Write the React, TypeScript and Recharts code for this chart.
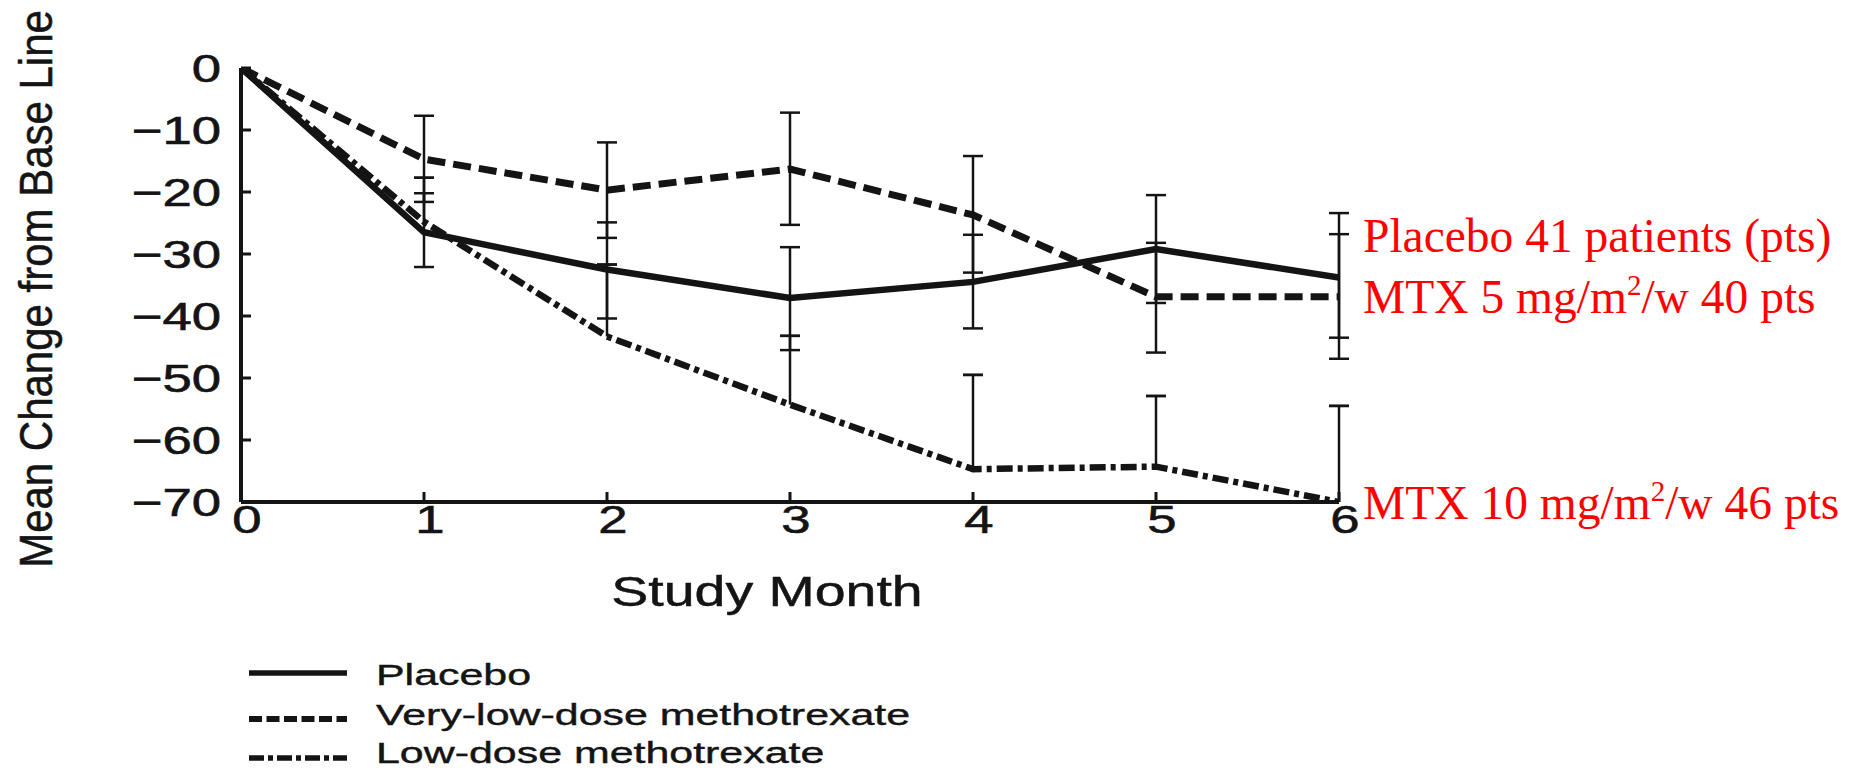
import React from 'react';
import { LineChart, Line, XAxis, YAxis, ErrorBar } from 'recharts';

// ---- data ----
const months = [0, 1, 2, 3, 4, 5, 6];
const yTicks = [0, -10, -20, -30, -40, -50, -60, -70];

const placebo = [0, -26.5, -32.5, -37.1, -34.5, -29.2, -33.8];
const placeboUpper = [null, -20.2, -24.9, -28.9, -26.9, -20.5, -23.4];
const placeboLower = [null, -32.1, -40.4, -45.5, -42.0, -37.9, -43.5];

const veryLow = [0, -14.7, -19.7, -16.3, -23.7, -36.9, -36.9];
const veryLowUpper = [null, -7.7, -12.0, -7.2, -14.2, -28.2, -26.8];
const veryLowLower = [null, -21.6, -27.4, -25.3, -33.0, -45.9, -46.9];

const lowDose = [0, -24.8, -43.3, -54.3, -64.7, -64.3, -70];
const lowDoseUpper = [null, -17.7, -31.7, -43.2, -49.5, -52.9, -54.5];

const legendNames = ['Placebo', 'Very-low-dose methotrexate', 'Low-dose methotrexate'];

const DASHED = '18 8';
const DASHDOT = '16 5 5 5';

const rows = months.map((m, i) => ({
  month: m,
  placebo: placebo[i],
  placeboErr: placeboUpper[i] == null ? undefined : [placebo[i] - (placeboLower[i] as number), (placeboUpper[i] as number) - placebo[i]],
  veryLow: veryLow[i],
  veryLowErr: veryLowUpper[i] == null ? undefined : [veryLow[i] - (veryLowLower[i] as number), (veryLowUpper[i] as number) - veryLow[i]],
  lowDose: lowDose[i],
  lowDoseErr: lowDoseUpper[i] == null ? undefined : [0, (lowDoseUpper[i] as number) - lowDose[i]],
  lowDoseCap: lowDoseUpper[i] == null ? undefined : lowDoseUpper[i],
  capErr: lowDoseUpper[i] == null ? undefined : [0, 0],
}));

const FONT = '"Liberation Sans", Arial, Helvetica, sans-serif';
const INK = '#141414';

const fmt = (v: number) => (v === 0 ? '0' : '\u2212' + Math.abs(v));

const YTick = (props: any) => {
  const { x, y, payload } = props;
  return (
    <g transform={`translate(${x},${y + 14})`}>
      <text transform="scale(1.35,1)" textAnchor="end" fontSize={39} fontFamily={FONT} fill={INK} stroke={INK} strokeWidth={0.6}>
        {fmt(payload.value)}
      </text>
    </g>
  );
};

const XTick = (props: any) => {
  const { x, y, payload } = props;
  return (
    <g transform={`translate(${x + 6},${y + 28})`}>
      <text transform="scale(1.35,1)" textAnchor="middle" fontSize={39} fontFamily={FONT} fill={INK} stroke={INK} strokeWidth={0.6}>
        {String(payload.value)}
      </text>
    </g>
  );
};

const errStyle = { stroke: INK, strokeWidth: 2.5 };

export default function App() {
  return (
    <div style={{ position: 'absolute', left: 0, top: 0, width: 1850, height: 772, background: '#fff' }}>
      <LineChart
        width={1850}
        height={772}
        data={rows}
        margin={{ top: 68, right: 511, bottom: 210, left: 141 }}
      >
        <XAxis
          dataKey="month"
          type="number"
          domain={[0, 6]}
          ticks={months}
          height={60}
          tickSize={-10}
          tickMargin={13}
          axisLine={{ stroke: INK, strokeWidth: 4 }}
          tickLine={{ stroke: INK, strokeWidth: 3 }}
          tick={<XTick />}
          allowDataOverflow
        />
        <YAxis
          type="number"
          domain={[-70, 0]}
          ticks={yTicks}
          width={100}
          tickSize={-10}
          tickMargin={30}
          axisLine={{ stroke: INK, strokeWidth: 4 }}
          tickLine={{ stroke: INK, strokeWidth: 3 }}
          tick={<YTick />}
          allowDataOverflow
        />
        <Line
          dataKey="placebo"
          type="linear"
          stroke={INK}
          strokeWidth={6.5}
          dot={false}
          activeDot={false}
          isAnimationActive={false}
        >
          <ErrorBar dataKey="placeboErr" direction="y" width={10} {...errStyle} />
        </Line>
        <Line
          dataKey="veryLow"
          type="linear"
          stroke={INK}
          strokeWidth={7}
          strokeDasharray={DASHED}
          dot={false}
          activeDot={false}
          isAnimationActive={false}
        >
          <ErrorBar dataKey="veryLowErr" direction="y" width={10} {...errStyle} />
        </Line>
        <Line
          dataKey="lowDose"
          type="linear"
          stroke={INK}
          strokeWidth={6.5}
          strokeDasharray={DASHDOT}
          dot={false}
          activeDot={false}
          isAnimationActive={false}
        >
          <ErrorBar dataKey="lowDoseErr" direction="y" width={0} {...errStyle} />
        </Line>
        <Line
          dataKey="lowDoseCap"
          type="linear"
          stroke="none"
          strokeWidth={0}
          dot={false}
          activeDot={false}
          isAnimationActive={false}
        >
          <ErrorBar dataKey="capErr" direction="y" width={10} {...errStyle} />
        </Line>
      </LineChart>

      <svg
        width={1850}
        height={772}
        style={{ position: 'absolute', left: 0, top: 0, pointerEvents: 'none' }}
      >
        {/* axis titles */}
        <text
          transform="translate(52,289) rotate(-90) scale(1,1.1)"
          textAnchor="middle"
          fontSize={42}
          fontFamily={FONT}
          fill={INK}
          stroke={INK}
          strokeWidth={0.5}
        >
          Mean Change from Base Line
        </text>
        <g transform="translate(767,606)">
          <text transform="scale(1.29,1)" textAnchor="middle" fontSize={43} fontFamily={FONT} fill={INK} stroke={INK} strokeWidth={0.5}>
            Study Month
          </text>
        </g>

        {/* legend */}
        {legendNames.map((name, i) => {
          const lineY = [673, 719, 758][i];
          const baseY = [685, 725, 763][i];
          return (
            <g key={name}>
              <line
                x1={249}
                x2={347}
                y1={lineY}
                y2={lineY}
                stroke={INK}
                strokeWidth={i === 1 ? 6 : 5.5}
                strokeDasharray={i === 1 ? '13 4.5' : i === 2 ? '15 4 5 4' : undefined}
              />
              <g transform={`translate(376,${baseY})`}>
                <text transform="scale(1.48,1)" fontSize={29} fontFamily={FONT} fill={INK} stroke={INK} strokeWidth={0.4}>
                  {name}
                </text>
              </g>
            </g>
          );
        })}

        {/* red annotations */}
        <g fontFamily='"Liberation Serif", "Times New Roman", serif' fontSize={47.5} fill="#ff0000">
          <text x={1363} y={252}>Placebo 41 patients (pts)</text>
          <text x={1363} y={313}>
            MTX 5 mg/m<tspan fontSize={29} dy={-18}>2</tspan>
            <tspan dy={18}>/w 40 pts</tspan>
          </text>
          <text x={1363} y={519}>
            MTX 10 mg/m<tspan fontSize={29} dy={-18}>2</tspan>
            <tspan dy={18}>/w 46 pts</tspan>
          </text>
        </g>
      </svg>
    </div>
  );
}
